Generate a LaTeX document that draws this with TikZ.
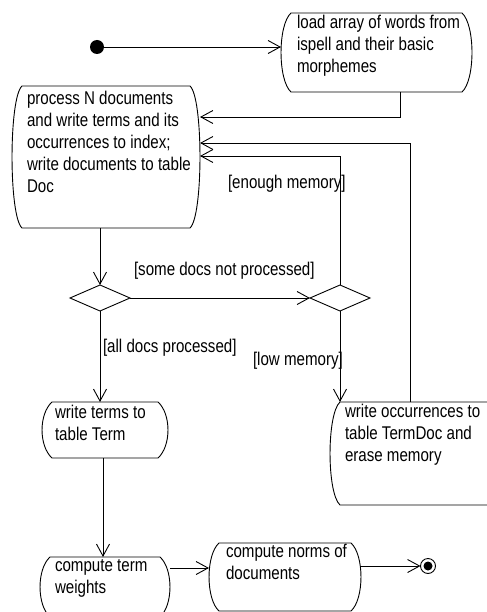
\documentclass[tikz,border=0pt]{standalone}
\usepackage{fontspec}
\setmainfont{Liberation Sans}[FakeStretch=0.82]
\usetikzlibrary{arrows.meta,shapes.geometric}

% Outline of an activity state: straight top and bottom, bulging sides.
\newcommand\bulge{10bp}
\newcommand\bulgethird{3.3bp}
\newcommand\cornerdrop{12bp}
\newcommand\actoutline[1]{%
  \draw[boxline] ([xshift=\bulge]#1.north west) -- ([xshift=-\bulge]#1.north east)
    .. controls ([xshift=\bulgethird,yshift=-\cornerdrop]#1.north east)
       and ([xshift=\bulgethird,yshift=\cornerdrop]#1.south east)
    .. ([xshift=-\bulge]#1.south east)
    -- ([xshift=\bulge]#1.south west)
    .. controls ([xshift=-\bulgethird,yshift=\cornerdrop]#1.south west)
       and ([xshift=-\bulgethird,yshift=-\cornerdrop]#1.north west)
    .. cycle;}

\begin{document}
\begin{tikzpicture}[x=1bp,y=-1bp,line width=0.9bp,
  every node/.style={font=\fontsize{18.5}{22}\selectfont,inner sep=0pt,outer sep=0pt},
  boxline/.style={draw=black,line width=0.9bp},
  area/.style={rectangle,draw=none,anchor=north west},
  acttext/.style={align=left,anchor=north west},
  guard/.style={anchor=base west},
  decision/.style={diamond,draw,minimum width=60bp,minimum height=26bp},
  flow/.style={-{Straight Barb[length=12bp,width=13bp]}},
]
\useasboundingbox (0,0) rectangle (487,612);

% activity states
\node[area,minimum width=191bp,minimum height=79bp]  (load)    at (281,13)  {};
\node[area,minimum width=188bp,minimum height=142bp] (proc)    at (12,86)   {};
\node[area,minimum width=126bp,minimum height=56bp]  (terms)   at (42,402)  {};
\node[area,minimum width=175bp,minimum height=103bp] (occ)     at (330,402) {};
\node[area,minimum width=130bp,minimum height=60bp]  (weights) at (40,557)  {};
\node[area,minimum width=152bp,minimum height=68bp]  (norms)   at (209,543) {};
\foreach \n in {load,proc,terms,occ,weights,norms} {\actoutline{\n}}

\node[acttext] (load-t) at (297,15)
  {\rule{0pt}{14pt}load array of words from\\ispell and their basic\\morphemes};
\node[acttext] (proc-t) at (27,91)
  {\rule{0pt}{14pt}process N documents\\and write terms and its\\occurrences to index;\\write documents to table\\Doc};
\node[acttext] (terms-t) at (55,405)
  {\rule{0pt}{14pt}write terms to\\table Term};
\node[acttext] (occ-t) at (345,404)
  {\rule{0pt}{14pt}write occurrences to\\table TermDoc and\\erase memory};
\node[acttext] (weights-t) at (55,558)
  {\rule{0pt}{14pt}compute term\\weights};
\node[acttext] (norms-t) at (226,544)
  {\rule{0pt}{14pt}compute norms of\\documents};

% decisions
\node[decision] (d1) at (100,298) {};
\node[decision] (d2) at (340,298) {};

% initial and final states
\node[circle,fill,minimum size=14bp] (start) at (97,47) {};
\node[circle,draw,minimum size=15bp] (stop) at (428,566) {};
\node[circle,fill,minimum size=9bp] (stopdot) at (stop) {};

% transitions
\draw[flow] (start) -- (start -| load.west);
\draw[flow] (load.south -| 400,0) |- (proc.east |- 0,117);
\draw[flow] (occ.north -| 410,0) |- (proc.east |- 0,143);
\draw[flow] (d2.north) |- (proc.east |- 0,156);
\draw[flow] (proc.south -| d1.north) -- (d1.north);
\draw[flow] (d1.east) -- (d2.west);
\draw[flow] (d1.south) -- (d1.south |- terms.north);
\draw[flow] (d2.south) -- (d2.south |- occ.north);
\draw[flow] (terms.south -| 103,0) -- (weights.north -| 103,0);
\draw[flow] (weights.east |- 0,568) -- (norms.west |- 0,568);
\draw[flow] (norms.east |- stop) -- (stop.west);

% guards
\node[guard] (g-enough) at (228,188) {[enough memory]};
\node[guard] (g-some)   at (134,275) {[some docs not processed]};
\node[guard] (g-all)    at (103,352) {[all docs processed]};
\node[guard] (g-low)    at (253,365) {[low memory]};
\end{tikzpicture}
\end{document}
